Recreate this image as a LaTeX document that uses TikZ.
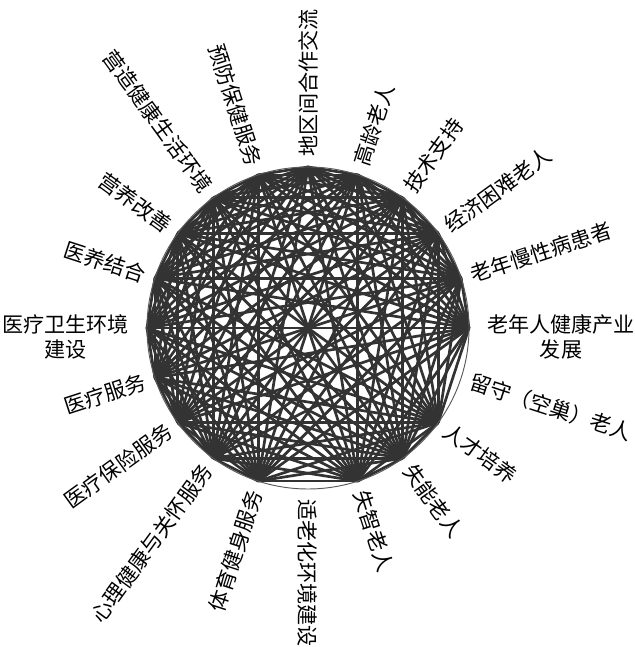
\documentclass[tikz,border=0pt]{standalone}
\usepackage{fontspec}
\newfontfamily\cjk{Noto Sans CJK SC}
\usetikzlibrary{positioning}

\begin{document}
\begin{tikzpicture}[
  x=0.03cm, y=0.03cm,
  every node/.style={font=\cjk\fontsize{18}{22}\selectfont},
  link/.style={draw=black!80, line width=2.3pt},
  rim/.style={draw=black!65, line width=0.8pt},
  tag/.style={inner sep=0pt, align=center},
]
  \useasboundingbox (0,0) rectangle (634,647);
  \coordinate (c) at (308,319);

  % points on the rim, one every 18 degrees
  \foreach \k in {0,...,19}
    \path (c) ++(18*\k:161) coordinate (v\k);

  % links (the points 15 and 19 have none)
  \foreach \i in {0,...,14,16,17,18}
    \foreach \j in {0,...,14,16,17,18}
      {\ifnum\i<\j \draw[link] (v\i) -- (v\j); \fi}

  \draw[rim] (c) circle (161);

  % labels, right half
  \foreach \k/\txt in {1/老年慢性病患者, 2/经济困难老人, 3/技术支持,
      4/高龄老人, 5/地区间合作交流, 15/适老化环境建设, 16/失智老人,
      17/失能老人, 18/人才培养, 19/留守（空巢）老人}
    \path (c) ++(18*\k:171) node[tag, rotate=18*\k, anchor=west] (l\k) {\txt};

  % labels, left half
  \foreach \k/\txt in {6/预防保健服务, 7/营造健康生活环境, 8/营养改善,
      9/医养结合, 11/医疗服务, 12/医疗保险服务, 13/心理健康与关怀服务,
      14/体育健身服务}
    \path (c) ++(18*\k:171) node[tag, rotate=18*\k-180, anchor=east] (l\k) {\txt};

  \node[tag, anchor=west] (l0) at ([shift={(18,-9)}]v0) {老年人健康产业\\发展};
  \node[tag, anchor=east] (l10) at ([shift={(-18,-9)}]v10) {医疗卫生环境\\建设};
\end{tikzpicture}
\end{document}
